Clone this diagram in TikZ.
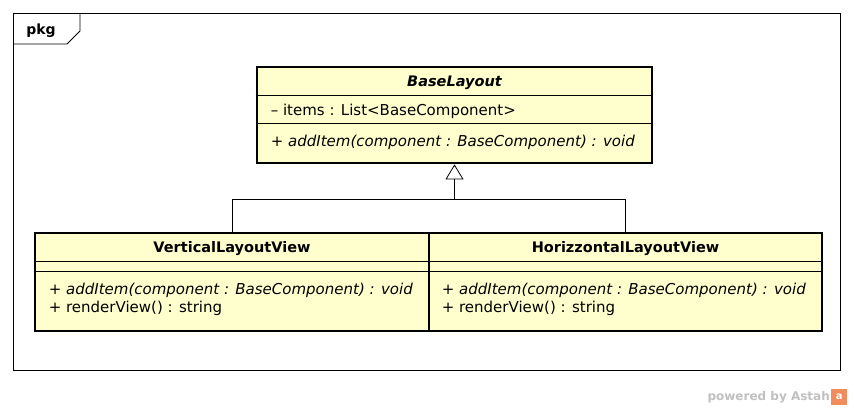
\documentclass[tikz,border=0pt]{standalone}
\usepackage{fontspec}
\setmainfont{DejaVu Sans}
\usepackage{xcolor}
\usetikzlibrary{arrows.meta,positioning}
\definecolor{umlfill}{RGB}{255,255,206}
\definecolor{astahgray}{RGB}{192,192,192}
\definecolor{astahorange}{RGB}{242,140,92}

\begin{document}
\begin{tikzpicture}[x=1pt, y=-1pt,
    classbox/.style={draw, line width=2.8pt, fill=umlfill, minimum width=#1, minimum height=98pt, inner sep=0pt},
    title/.style={inner sep=0pt, font=\fontsize{14.5}{17}\selectfont\bfseries},
    member/.style={anchor=west, inner sep=0pt, font=\fontsize{15}{18}\selectfont},
    sep/.style={line width=0.8pt},
    line/.style={line width=0.8pt},
    arrow/.style={-{Triangle[open, length=15pt, width=18pt, line width=0.8pt]}, line width=0.8pt}
]
\useasboundingbox[fill=white] (0,0) rectangle (854,410);

% package frame
\draw[line width=0.8pt] (13,13) rectangle (840,370);
\draw[line width=0.8pt] (13,44) -- (67,44) -- (80,31) -- (80,13);
\node[font=\fontsize{14}{17}\selectfont\bfseries, inner sep=0pt] (pkg) at (41,31) {pkg};

% classes
\node[classbox=395pt, minimum height=96pt] (base) at (454.5,115) {};
\node[classbox=394pt] (vlv) at (232,282) {};
\node[classbox=393pt] (hlv) at (625.5,282) {};

\node[title, font=\fontsize{14.5}{17}\selectfont\bfseries\itshape] (basetitle) at ([yshift=-17pt]base.north) {BaseLayout};
\draw[sep] ([yshift=-30pt]base.north west) -- ([yshift=-30pt]base.north east);
\draw[sep] ([yshift=-58pt]base.north west) -- ([yshift=-58pt]base.north east);
\node[member] (baseattr) at ([xshift=15pt, yshift=-46pt]base.north west) {– items : List<BaseComponent>};
\node[member, font=\fontsize{15}{18}\selectfont\itshape] (baseop) at ([xshift=15pt, yshift=-77pt]base.north west) {+ addItem(component : BaseComponent) : void};

\node[title] (vlvtitle) at ([yshift=-17pt]vlv.north) {VerticalLayoutView};
\draw[sep] ([yshift=-30pt]vlv.north west) -- ([yshift=-30pt]vlv.north east);
\draw[sep] ([yshift=-40pt]vlv.north west) -- ([yshift=-40pt]vlv.north east);
\node[member, font=\fontsize{15}{18}\selectfont\itshape] (vlvadd) at ([xshift=15pt, yshift=-59pt]vlv.north west) {+ addItem(component : BaseComponent) : void};
\node[member] (vlvrender) at ([xshift=15pt, yshift=-77pt]vlv.north west) {+ renderView() : string};

\node[title] (hlvtitle) at ([yshift=-17pt]hlv.north) {HorizzontalLayoutView};
\draw[sep] ([yshift=-30pt]hlv.north west) -- ([yshift=-30pt]hlv.north east);
\draw[sep] ([yshift=-40pt]hlv.north west) -- ([yshift=-40pt]hlv.north east);
\node[member, font=\fontsize{15}{18}\selectfont\itshape] (hlvadd) at ([xshift=14pt, yshift=-59pt]hlv.north west) {+ addItem(component : BaseComponent) : void};
\node[member] (hlvrender) at ([xshift=14pt, yshift=-77pt]hlv.north west) {+ renderView() : string};

% generalization
\coordinate (join) at (base.south |- 0,199);
\draw[line] (vlv.north) |- (join);
\draw[line] (hlv.north) |- (join);
\draw[arrow] (join) -- (base.south);

% footer
\node[font=\fontsize{12}{14}\selectfont\bfseries, text=astahgray, anchor=east, inner sep=0pt] (powered) at (830,397) {powered by Astah};
\node[fill=astahorange, minimum size=16pt, inner sep=0pt, right=1pt of powered, font=\fontsize{10}{10}\selectfont\bfseries, text=white] (logo) {a};
\end{tikzpicture}
\end{document}
